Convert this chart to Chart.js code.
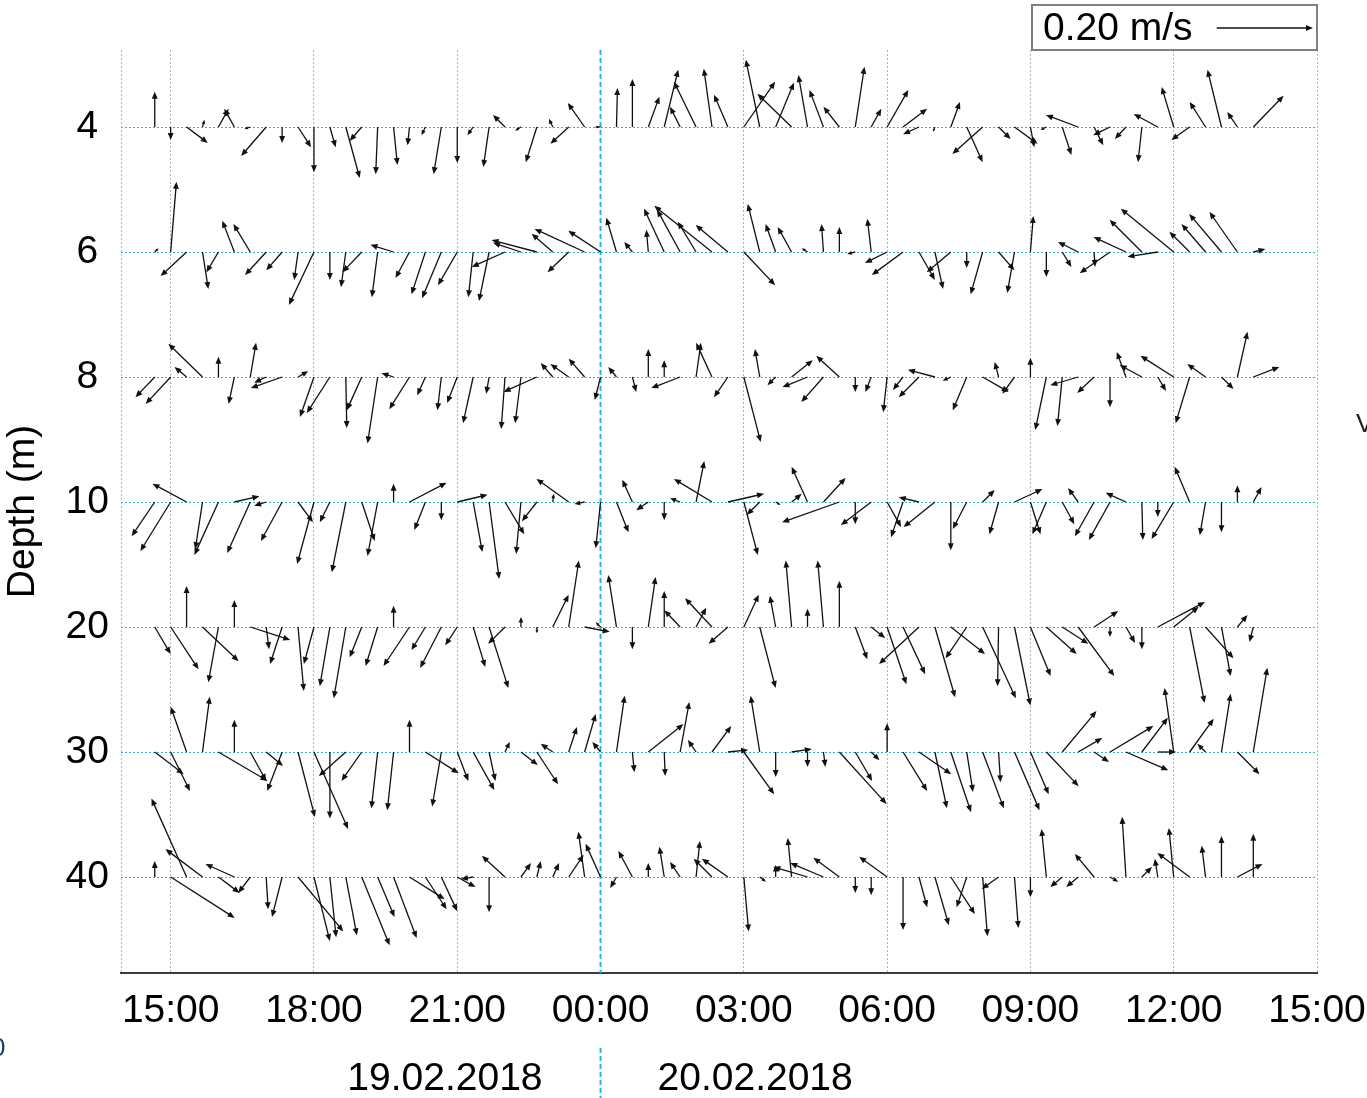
<!DOCTYPE html>
<html>
<head>
<meta charset="utf-8">
<script src="https://cdn.jsdelivr.net/npm/chart.js@4.4.1/dist/chart.umd.min.js"></script>
<style>
    html, body { margin: 0; padding: 0; background: #fff; }
    #contenedor { position: relative; width: 1367px; height: 1098px; }
</style>
</head>
<body>
<div id="contenedor"><canvas id="graficoVectores" width="1367" height="1098"></canvas></div>
<script>
// Horas de medicion (cada 20 min), 19.02.2018 14:40 -> 20.02.2018 13:40
const tiempos = ['14:40','15:00','15:20','15:40','16:00','16:20','16:40','17:00','17:20','17:40',
    '18:00','18:20','18:40','19:00','19:20','19:40','20:00','20:20','20:40','21:00',
    '21:20','21:40','22:00','22:20','22:40','23:00','23:20','23:40','00:00','00:20',
    '00:40','01:00','01:20','01:40','02:00','02:20','02:40','03:00','03:20','03:40',
    '04:00','04:20','04:40','05:00','05:20','05:40','06:00','06:20','06:40','07:00',
    '07:20','07:40','08:00','08:20','08:40','09:00','09:20','09:40','10:00','10:20',
    '10:40','11:00','11:20','11:40','12:00','12:20','12:40','13:00','13:20','13:40'];

const profundidades = [4, 6, 8, 10, 20, 30, 40];
const fechas = ['19.02.2018', '20.02.2018'];

// Componentes de velocidad (cm/s): u = este, v = norte
const u4 = [0, 0, 4.4, 0.4, 2.1, -2.1, -1.2, -5.2, 0, 2.7,
    0, 1.2, 2.9, -2.5, -0.4, 0.8, -0.4, -0.8, -1.6, 0,
    -1.2, -1.2, -2.5, -1.2, -2.3, -0.8, -3.8, -3.5, -1.2, 0.2,
    0, 2.3, 2.9, -2.1, -4.6, -1.7, -2.9, 6.5, -2.9, 3.8,
    -7.1, -1.9, -2.9, -3.3, 1.9, 2.1, 4.4, 5.0, -3.3, -0.4,
    1.9, 3.3, -6.3, 2.5, 4.8, 0.8, -1.2, 1.9, -6.7, 1.9,
    -3.5, -2.3, -0.8, -5.0, -2.5, -3.8, -3.3, -2.9, -2.1, 6.3];
const v4 = [7.3, -2.7, -3.3, 1.5, 3.8, 3.8, -0.4, -6.0, -3.3, -4.2,
    -9.4, -4.2, -10.6, -2.9, -9.8, -7.9, -3.8, -1.7, -9.8, -7.5,
    -1.7, -8.3, 2.5, -0.8, -7.3, 1.7, -3.5, 5.0, 0, 8.1,
    10.0, 6.3, 11.9, 4.2, 9.4, 12.1, 6.7, 9.4, 14.0, 9.2,
    6.9, 10.8, 7.7, 4.2, 12.5, 3.8, 7.7, 3.8, -1.5, -1.0,
    5.2, -7.3, -5.6, -2.5, -3.5, -4.2, -0.6, -5.8, 2.5, -3.8,
    -1.7, -2.5, -7.3, 2.7, 8.3, -2.7, 5.2, 11.9, 3.1, 6.5];

const u6 = [0.8, 1.2, -5.4, 1.2, -2.5, -2.5, -3.5, -4.4, -3.3, -0.8,
    -5.2, 0, -1.0, -4.0, -1.2, -4.8, -2.9, -2.9, -4.0, -4.0,
    -1.0, -2.1, -6.9, -5.8, -9.4, -4.4, -4.4, -10.4, -6.7, -2.1,
    -1.7, -0.4, -4.2, -4.8, -3.8, -12.0, -6.7, 6.5, -2.5, -2.1,
    -2.9, -1.2, -0.4, 0, -1.7, -0.8, -4.6, -6.5, 3.3, 1.7,
    -5.0, 0, -2.5, 3.3, -1.5, 0.6, 0, 1.9, -4.2, 0.2,
    -6.3, -6.7, -6.7, -6.3, -11.0, -4.2, -5.0, -6.7, -5.8, 2.5];
const v6 = [0.8, 14.6, -5.0, -7.7, -4.2, 6.5, 5.8, -4.8, -3.8, -5.8,
    -11.0, -5.8, -7.3, -4.2, -9.4, 1.5, -5.4, -8.8, -9.6, -6.9,
    -9.4, -10.2, -3.1, 1.9, 2.5, 3.8, -4.2, 4.8, 4.4, 7.1,
    2.1, 4.6, 9.0, 8.8, 6.3, 9.6, 5.6, -6.9, 10.0, 5.8,
    5.2, 0.8, 5.8, 5.2, -0.4, 6.9, -2.3, -4.8, -5.8, -7.7,
    -4.2, -3.3, -8.8, -3.8, -8.5, 7.5, -5.2, -3.1, 2.1, -3.1,
    -4.4, 3.1, 6.7, -1.0, 9.0, 4.2, 5.8, 7.9, 8.3, 0.6];

const u8 = [-4.0, -5.2, -2.5, -7.1, 0, -1.2, 1.2, -2.5, -6.5, 2.1,
    -2.9, -4.8, 0.2, -3.1, -2.1, -2.5, -4.2, -1.7, -0.8, -2.1,
    -2.1, -0.6, -0.8, -1.2, -6.9, -2.5, -3.8, -3.3, -1.2, -1.7,
    0.8, 0, 0, -6.0, 1.0, -3.3, -2.9, 3.5, -1.0, -1.7,
    4.4, -5.2, -4.6, -4.8, 0, -1.2, -0.8, -2.1, -4.2, -5.6,
    -1.7, -2.9, 5.4, -0.8, -2.5, 0, -2.3, -1.0, -5.8, -3.5,
    0, -1.9, -4.6, 1.7, -6.9, -2.9, -3.8, 2.5, 2.1, 5.4];
const v8 = [-4.2, -5.6, 2.1, 6.9, 4.2, -5.6, 7.1, -1.2, -2.3, 1.2,
    -8.3, -7.5, -10.6, -6.9, -13.8, 0.8, -6.7, -3.8, -6.9, -5.4,
    -9.6, -3.5, -10.8, -9.6, -3.1, 2.9, 2.7, 3.8, -4.8, 2.1,
    -3.1, 5.8, 3.5, -2.3, 7.1, 7.1, -4.2, -13.5, 5.8, -1.7,
    3.5, -2.1, -5.2, 4.4, -3.1, -3.1, -7.3, -2.7, -4.2, 1.5,
    -0.8, -6.9, -3.1, 3.1, -3.5, 4.0, -11.0, -10.2, -1.7, -3.3,
    -6.3, 5.2, 2.5, -2.9, 4.4, -9.6, 2.7, -2.5, 9.4, 2.1];

const u10 = [-4.8, -6.3, -7.1, -1.5, -5.0, 5.2, -4.8, -2.5, -4.4, 3.1,
    -3.5, -2.1, -2.9, 2.7, -2.1, 0, 7.7, -2.3, 0, 6.3,
    1.9, 2.1, 4.0, -1.0, -3.1, 0.2, -6.7, -2.1, -1.0, 2.5,
    -2.1, -2.5, 0, -2.1, 1.7, -7.9, 7.5, 2.9, -2.7, 1.0,
    2.1, -3.3, 4.6, -11.9, 0, -6.3, 2.9, -2.5, -4.2, -6.5,
    0, -2.9, 2.5, -1.9, 5.8, 2.1, -2.9, 2.5, -2.1, -4.0,
    -4.4, -4.2, 0.2, 0, -4.6, -3.1, -1.2, 0, 0, 1.7];
const v10 = [-7.1, -10.2, 3.8, -9.8, -11.0, 1.2, -10.6, -0.8, -8.1, -4.2,
    -12.9, -4.2, -14.6, -8.1, -11.2, 3.8, 4.0, -5.8, -3.8, 1.5,
    -10.4, -16.0, -6.7, -10.8, -4.0, 1.7, 4.8, -0.4, -9.6, -6.3,
    4.6, -1.7, -3.8, 0.8, 8.5, 4.8, 1.7, -11.0, -2.7, -0.6,
    1.7, 7.3, 5.0, -4.2, -4.6, -4.8, -5.2, -7.3, 1.0, -5.2,
    -10.0, -5.6, 2.5, -6.7, 2.7, -6.7, -6.7, -4.6, 2.9, -7.1,
    -7.9, 1.9, -7.9, -3.1, -7.7, 7.3, -6.9, -6.3, 3.5, 3.1];

const u20 = [3.3, 5.8, 0, 7.5, -2.1, 0, 8.3, 0.6, -2.5, 1.2,
    -2.1, -2.1, -2.5, -2.5, -2.5, 0, -5.4, -2.9, -4.4, -2.5,
    2.5, 4.0, -3.5, 0, 0, 3.3, 2.1, 5.2, -1.0, -1.7,
    0, 1.5, 0, -3.3, 2.1, -5.6, -4.0, 3.1, 3.3, -1.2,
    -1.2, 0, -1.2, 0, 2.5, 2.9, 4.0, 4.6, -8.3, 4.2,
    7.1, -4.4, 6.9, -0.2, 3.3, 4.2, 6.3, 5.4, 7.5, 5.0,
    0, 1.9, 0, 9.8, 5.2, 3.1, 5.8, 1.9, 2.1, -0.8];
const v20 = [-5.6, -8.8, 8.5, -7.1, -11.5, 5.6, -2.7, -4.6, -7.7, -13.3,
    -7.7, -12.3, -14.8, -6.3, -8.1, 4.4, -8.1, -4.8, -8.5, -3.8,
    -8.3, -12.7, -3.5, 2.1, -1.3, 6.7, 13.8, -1.0, 1.0, 10.8,
    -4.6, 10.4, 7.5, 3.5, 4.0, 6.0, -3.5, 6.7, -12.7, 6.5,
    13.8, 3.8, 13.8, 9.6, -6.7, -2.3, -11.9, -9.8, -7.7, -14.6,
    -5.6, -6.5, -14.8, -12.3, -16.3, -10.2, -5.6, -3.5, -10.2, 3.3,
    -2.1, -3.3, -4.6, 5.2, 4.2, -15.8, -6.5, -10.2, 2.5, -3.1];

const u30 = [6.0, 4.0, -3.3, 1.5, 10.2, 0, 3.3, 3.5, -3.1, 3.5,
    7.1, 0, -5.6, -4.2, -1.3, -1.3, 0, 6.9, -1.9, 2.3,
    4.4, 1.3, 1.0, 3.5, 4.4, -2.5, 1.7, 2.3, -1.7, 1.7,
    0.4, 7.3, 0.2, 1.9, -1.7, 4.0, 4.2, 6.3, -1.9, 0,
    4.2, 0, 0.4, 9.8, 3.5, 1.7, 0, 5.0, 6.7, 2.5,
    4.2, 1.3, 4.4, 0.4, 5.2, 3.8, 6.7, 7.1, 5.0, 3.1,
    9.0, 8.8, 5.4, 3.8, -1.9, 5.0, -1.7, 1.9, 4.6, 2.9];
const v30 = [-4.6, -8.1, 9.4, 11.5, -6.0, 6.7, -6.0, -2.9, -8.1, -13.5,
    -16.0, -13.8, -5.0, -6.0, -11.7, -12.1, 6.7, -4.4, -11.3, -6.0,
    -7.9, -6.0, 2.1, -2.7, -6.7, 1.7, 5.2, 7.9, 2.1, 11.7,
    -4.2, 5.8, -5.0, 10.4, 2.5, 5.4, 0.4, -8.8, 11.7, -5.2,
    0.6, -3.1, -3.1, -10.8, -6.0, -1.7, 6.0, -8.1, -4.6, -11.7,
    -12.5, -8.3, -11.7, -6.3, -12.1, -8.8, -7.1, 8.5, 2.9, -2.1,
    5.4, -3.8, 7.1, 0, 13.3, 6.9, 1.7, 12.1, -4.6, 17.5];

const u40 = [0, 13.3, -7.3, -7.7, 4.4, -6.0, -2.5, 0.4, -2.1, 9.4,
    3.3, 1.3, 2.3, 5.8, 3.5, 4.8, 7.3, 4.4, 3.3, 3.8,
    -2.5, 0, -4.8, 2.1, 0.8, 1.3, 3.1, -1.3, -3.1, -1.3,
    -2.9, 0, -1.0, -2.1, 0.8, -3.8, -5.4, 1.0, 1.3, 0,
    -0.8, -7.1, -6.9, -5.4, 0, 0, -5.8, 0, 1.7, 2.9,
    5.0, -2.1, 1.0, -3.5, 0.8, 0, -1.0, -2.5, -2.5, -4.0,
    1.7, -0.8, 2.1, -0.6, -1.0, -6.7, -0.8, 0, 5.2, 0];
const v40 = [3.3, -8.5, 16.3, 5.8, -3.3, 2.7, -3.3, -6.7, -8.3, -11.3,
    -13.3, -12.5, -12.1, -14.2, -8.3, -12.7, -4.6, -6.7, -7.1, -2.1,
    -0.4, -7.3, 4.4, 2.9, 3.3, 2.9, 4.6, 9.4, 6.9, -2.3,
    5.4, 2.9, 6.3, 3.1, 7.5, 3.8, 3.8, -11.3, -1.0, 2.5,
    8.1, 2.1, 2.9, 4.0, -3.3, -3.8, 4.2, -11.0, -6.3, -10.0,
    -7.7, -6.3, -12.3, -2.5, -10.6, -4.2, 10.0, -2.1, -2.1, 4.8,
    -1.0, 12.5, 2.1, 3.8, 10.2, 5.0, 6.5, 8.5, 2.7, 9.0];

const componentesU = [u4, u6, u8, u10, u20, u30, u40];
const componentesV = [v4, v6, v8, v10, v20, v30, v40];

const velocidadReferencia = 20;   // cm/s de la flecha de la leyenda (0.20 m/s)
const largoReferencia = 0.77;     // largo de esa flecha en fracciones de la separacion entre filas
const fuente = "'Liberation Sans', Arial, sans-serif";
const cian = '#2cb5dc';

document.addEventListener('DOMContentLoaded', function(){
    // horas desde el 19.02.2018 00:00
    const horas = tiempos.map(t => {
        const [h, m] = t.split(':').map(Number);
        return (h < 14 ? h + 24 : h) + m / 60;
    });

    function dibujarFlecha(ctx, x0, y0, x1, y1) {
        const dx = x1 - x0, dy = y1 - y0;
        const largo = Math.hypot(dx, dy);
        if (largo < 0.5) return;
        const ux = dx / largo, uy = dy / largo;
        const cabeza = Math.min(7, largo * 0.55);
        const ancho = cabeza * 0.42;
        ctx.beginPath();
        ctx.moveTo(x0, y0);
        ctx.lineTo(x1 - ux * cabeza * 0.6, y1 - uy * cabeza * 0.6);
        ctx.stroke();
        ctx.beginPath();
        ctx.moveTo(x1, y1);
        ctx.lineTo(x1 - ux * cabeza - uy * ancho, y1 - uy * cabeza + ux * ancho);
        ctx.lineTo(x1 - ux * cabeza + uy * ancho, y1 - uy * cabeza - ux * ancho);
        ctx.closePath();
        ctx.fill();
    }

    function pxPorCm(chart) {
        const y = chart.scales.y;
        const fila = Math.abs(y.getPixelForValue(1) - y.getPixelForValue(0));
        return fila * largoReferencia / velocidadReferencia;
    }

    // Lineas de fondo: borde izquierdo punteado y medianoche
    const pluginFondo = {
        id: 'fondo',
        beforeDatasetsDraw(chart) {
            const ctx = chart.ctx;
            const area = chart.chartArea;
            const xm = chart.scales.x.getPixelForValue(24);
            ctx.save();
            ctx.strokeStyle = '#b4b4b4';
            ctx.lineWidth = 1;
            ctx.setLineDash([2, 2]);
            ctx.beginPath();
            ctx.moveTo(area.left + 0.5, area.top);
            ctx.lineTo(area.left + 0.5, area.bottom);
            ctx.stroke();
            ctx.strokeStyle = cian;
            ctx.lineWidth = 2;
            ctx.setLineDash([5, 3]);
            ctx.beginPath();
            ctx.moveTo(xm, area.top);
            ctx.lineTo(xm, area.bottom);
            ctx.stroke();
            ctx.restore();
        }
    };

    // Flechas de corriente, leyenda y fechas
    const pluginFlechas = {
        id: 'flechas',
        afterDatasetsDraw(chart) {
            const ctx = chart.ctx;
            const k = pxPorCm(chart);
            ctx.save();
            ctx.strokeStyle = '#111';
            ctx.fillStyle = '#111';
            ctx.lineWidth = 1.3;
            ctx.setLineDash([]);
            chart.data.datasets.forEach((ds, i) => {
                const meta = chart.getDatasetMeta(i);
                meta.data.forEach((pt, j) => {
                    dibujarFlecha(ctx, pt.x, pt.y, pt.x + ds.u[j] * k, pt.y - ds.v[j] * k);
                });
            });
            ctx.restore();
        },
        afterDraw(chart) {
            const ctx = chart.ctx;
            const area = chart.chartArea;
            const k = pxPorCm(chart);
            const xm = chart.scales.x.getPixelForValue(24);
            ctx.save();
            // caja de escala
            ctx.strokeStyle = '#808080';
            ctx.lineWidth = 2;
            ctx.strokeRect(1032, 5, area.right - 1032, 45);
            ctx.fillStyle = '#000';
            ctx.font = '39px ' + fuente;
            ctx.textBaseline = 'middle';
            ctx.textAlign = 'left';
            ctx.fillText('0.20 m/s', 1043, 29);
            ctx.strokeStyle = '#111';
            ctx.fillStyle = '#111';
            ctx.lineWidth = 1.3;
            const largo = velocidadReferencia * k;
            dibujarFlecha(ctx, area.right - 4 - largo, 28, area.right - 4, 28);
            // fechas
            ctx.fillStyle = '#000';
            ctx.textAlign = 'right';
            ctx.fillText(fechas[0], xm - 58, 1079);
            ctx.textAlign = 'left';
            ctx.fillText(fechas[1], xm + 57, 1079);
            ctx.strokeStyle = cian;
            ctx.lineWidth = 2;
            ctx.setLineDash([5, 3]);
            ctx.beginPath();
            ctx.moveTo(xm, 1048);
            ctx.lineTo(xm, 1098);
            ctx.stroke();
            // restos recortados de la figura original
            ctx.setLineDash([]);
            ctx.font = '26px ' + fuente;
            ctx.fillStyle = '#222';
            ctx.fillText('V', 1356, 425);
            ctx.fillStyle = '#1d3c6e';
            ctx.fillText('0', -9, 1049);
            ctx.restore();
        }
    };

    const ctx = document.getElementById('graficoVectores').getContext('2d');
    new Chart(ctx, {
        type: 'scatter',
        data: {
            datasets: profundidades.map((p, i) => ({
                label: p + ' m',
                data: horas.map(h => ({ x: h, y: i })),
                u: componentesU[i],
                v: componentesV[i],
                pointRadius: 0,
                showLine: false
            }))
        },
        options: {
            responsive: false,
            animation: false,
            layout: { padding: { top: 50, right: 50, bottom: 0, left: 0 } },
            plugins: {
                legend: { display: false },
                tooltip: { enabled: false }
            },
            scales: {
                x: {
                    type: 'linear',
                    min: 13.96,
                    max: 39,
                    afterFit: s => { s.height = 125; s.paddingLeft = 0; s.paddingRight = 0; },
                    ticks: {
                        stepSize: 3,
                        includeBounds: false,
                        autoSkip: false,
                        maxRotation: 0,
                        padding: 15,
                        color: '#000',
                        font: { family: fuente, size: 39 },
                        callback: v => String(((v % 24) + 24) % 24).padStart(2, '0') + ':00'
                    },
                    grid: {
                        drawTicks: false,
                        color: c => (c.tick && c.tick.value === 24) ? 'rgba(0,0,0,0)' : '#b4b4b4',
                        lineWidth: 1
                    },
                    border: { display: true, color: '#3c3c3c', width: 2, dash: [2, 2] }
                },
                y: {
                    type: 'linear',
                    reverse: true,
                    min: -0.616,
                    max: 6.768,
                    afterFit: s => { s.width = 121; s.paddingTop = 0; s.paddingBottom = 0; },
                    afterBuildTicks: s => { s.ticks = profundidades.map((p, i) => ({ value: i })); },
                    ticks: {
                        crossAlign: 'center',
                        padding: 12,
                        color: '#000',
                        font: { family: fuente, size: 39 },
                        callback: (v, i) => profundidades[i]
                    },
                    grid: { drawTicks: false, color: cian, lineWidth: 1 },
                    border: { display: false, dash: [2, 2] },
                    title: {
                        display: true,
                        text: 'Depth (m)',
                        color: '#000',
                        padding: 0,
                        font: { family: fuente, size: 39 }
                    }
                }
            }
        },
        plugins: [pluginFondo, pluginFlechas]
    });
});
</script>
</body>
</html>
